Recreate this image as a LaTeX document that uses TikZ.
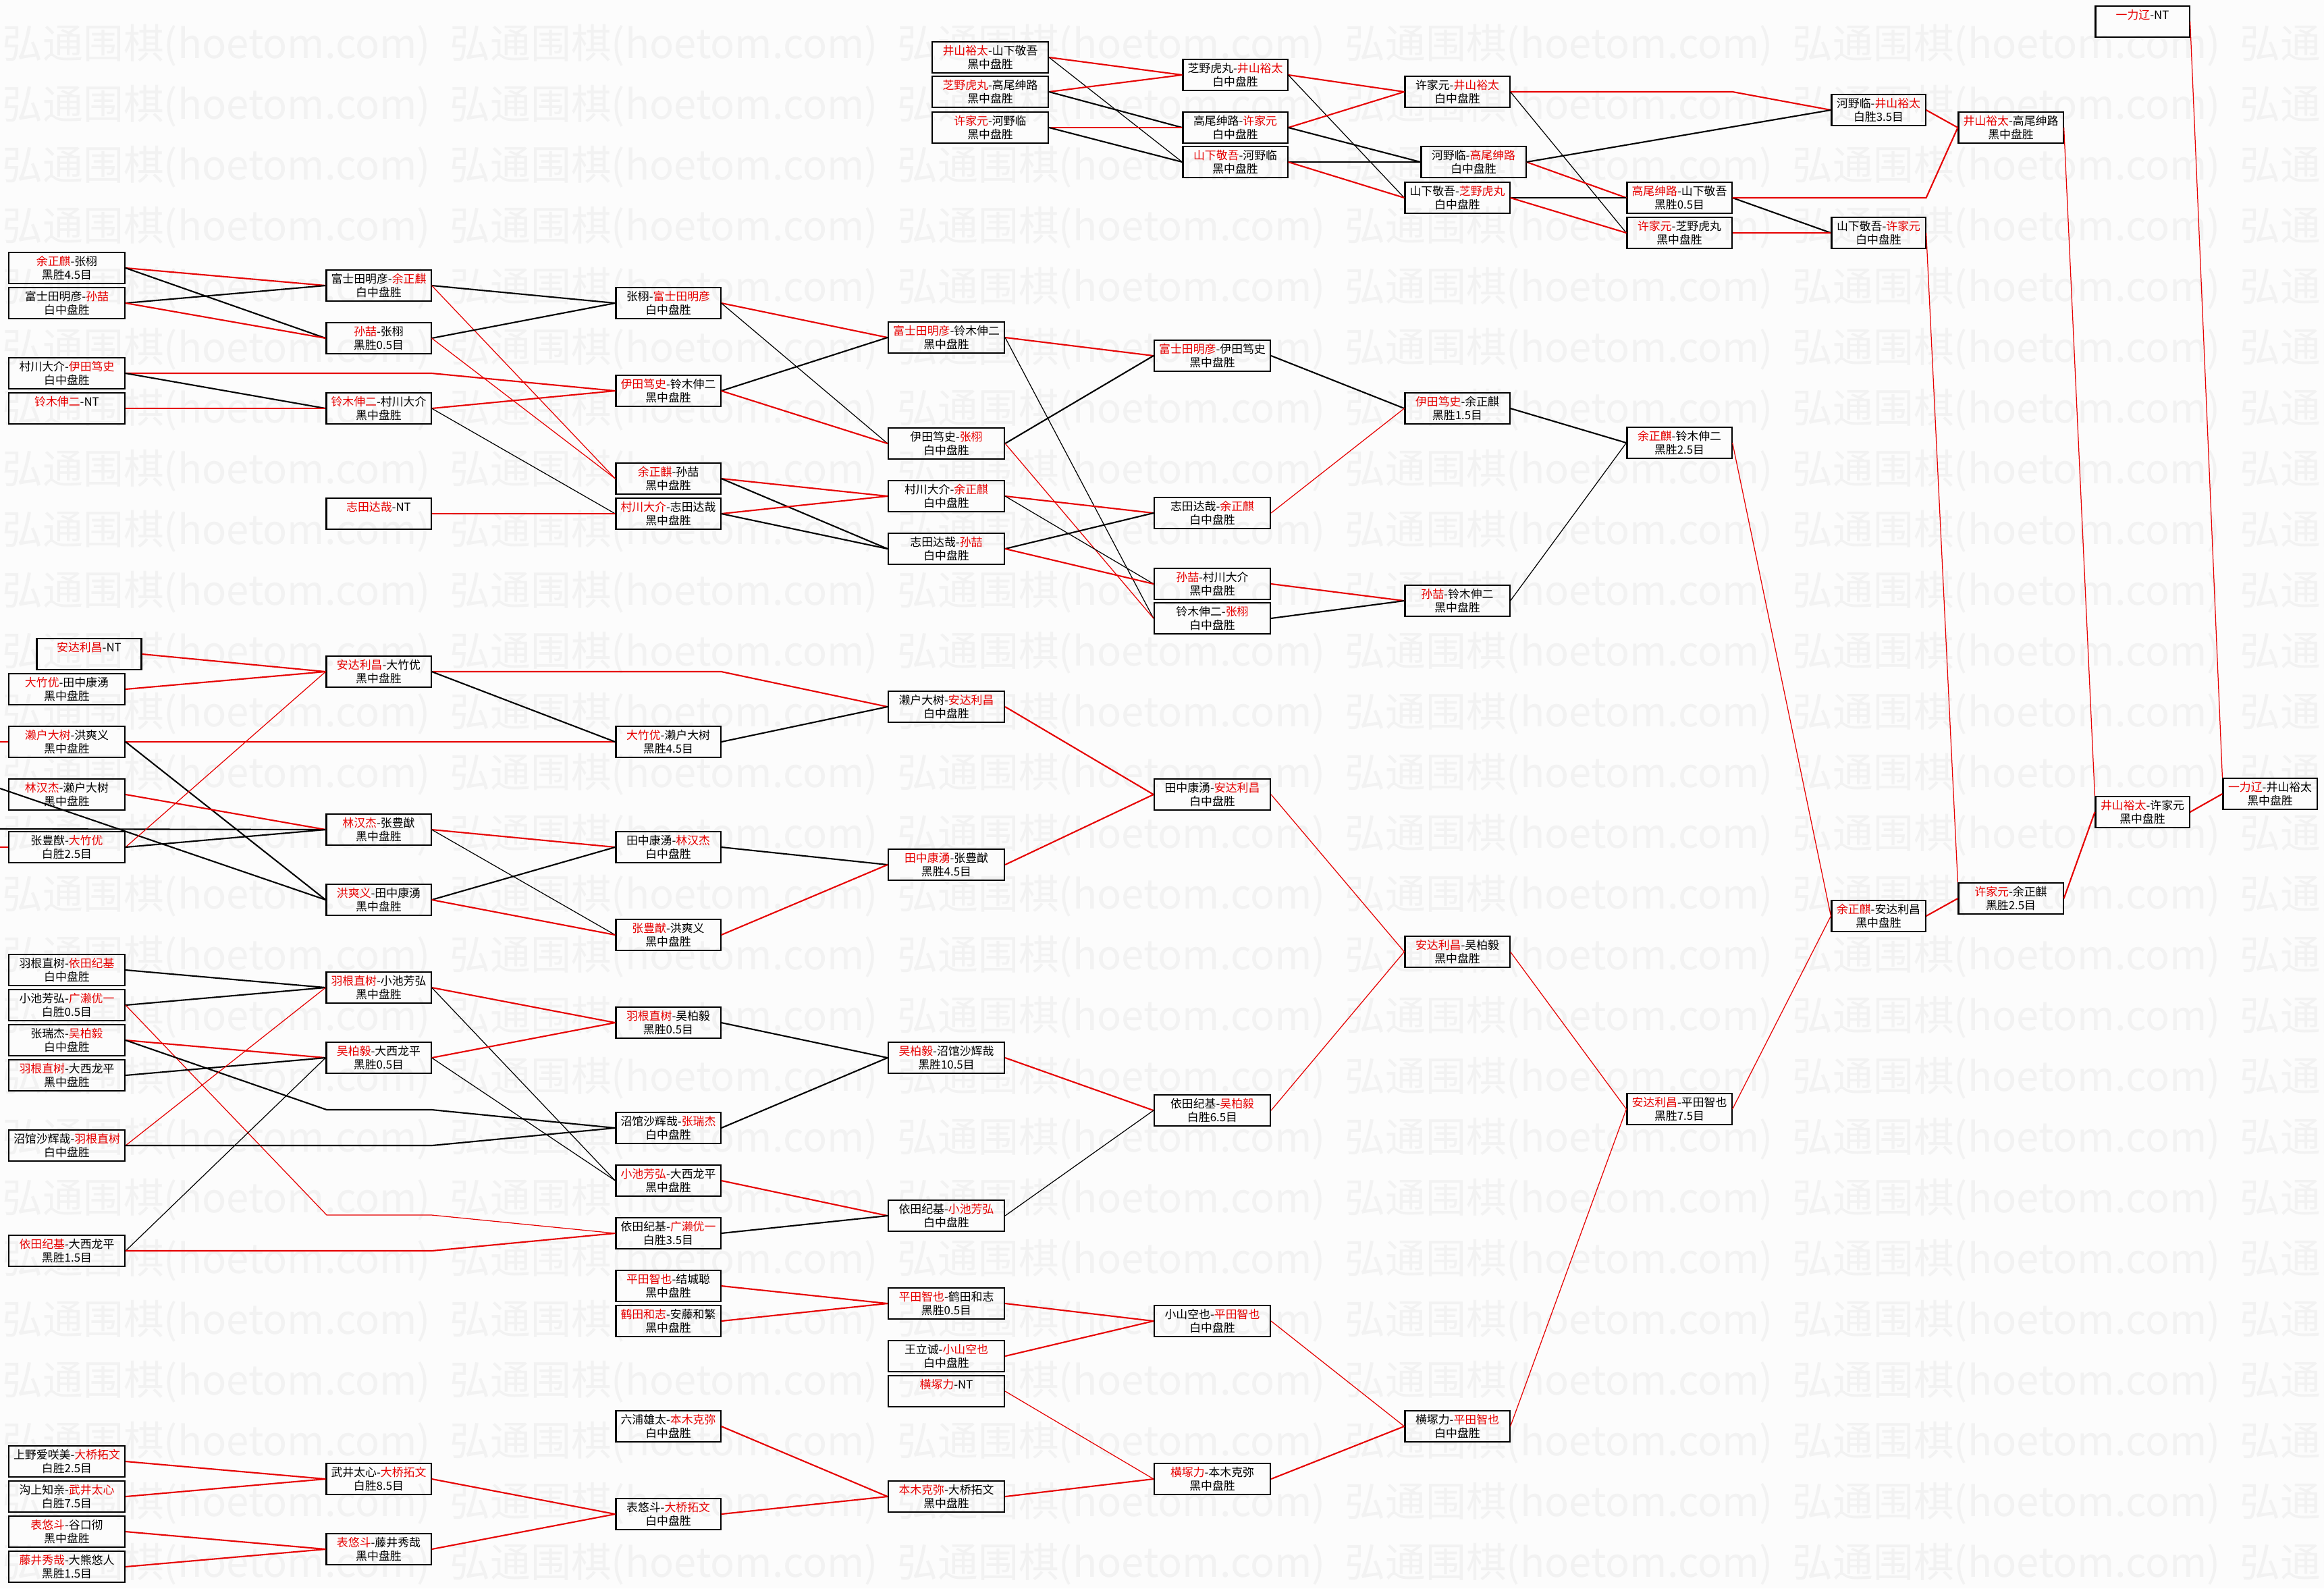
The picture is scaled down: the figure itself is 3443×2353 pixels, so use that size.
\documentclass[tikz,border=0pt]{standalone}
\usepackage{fontspec}
\newfontfamily\cjk{Noto Sans CJK SC}
\definecolor{winred}{RGB}{230,0,0}
\definecolor{wmgray}{RGB}{242,242,242}
\definecolor{paper}{RGB}{252,252,252}
\newcommand{\winner}[1]{\textcolor{winred}{#1}}

\begin{document}
\begin{tikzpicture}[
  x=0.01cm, y=-0.01cm,
  match/.style={draw, line width=0.6pt, minimum height=0.46cm, inner sep=0.5pt,
                align=center, font=\cjk\fontsize{4.8}{5.7}\selectfont},
  wide/.style={match, minimum width=1.72cm},
  mid/.style={match, minimum width=1.55cm},
  narrow/.style={match, minimum width=1.39cm},
  win/.style={draw=winred, line width=0.6pt},
  lose/.style={draw=black, line width=0.6pt},
  faint/.style={line width=0.35pt},
  wm/.style={anchor=west, inner sep=0pt, text=wmgray,
             font=\cjk\fontsize{17}{17}\selectfont}
]
\useasboundingbox (0,0) rectangle (3443,2353);
\clip (0,0) rectangle (3443,2353);
\fill[paper] (0,0) rectangle (3443,2353);

% Watermark
\foreach \r in {0,...,25}
  \foreach \c in {0,...,5}
    \node[wm] (wm-\r-\c) at (3+663*\c, 67+90*\r) {弘通围棋(hoetom.com)};

% Top group
\node[wide] (t1) at (1467,85) {\winner{井山裕太}-山下敬吾\\黑中盘胜};
\node[wide] (t2) at (1467,136) {\winner{芝野虎丸}-高尾绅路\\黑中盘胜};
\node[wide] (t3) at (1467,189) {\winner{许家元}-河野临\\黑中盘胜};
\node[mid] (t4) at (1830,111) {芝野虎丸-\winner{井山裕太}\\白中盘胜};
\node[mid] (t5) at (1830,189) {高尾绅路-\winner{许家元}\\白中盘胜};
\node[mid] (t6) at (1830,240) {\winner{山下敬吾}-河野临\\黑中盘胜};
\node[mid] (t7) at (2159,136) {许家元-\winner{井山裕太}\\白中盘胜};
\node[mid] (t8) at (2183,240) {河野临-\winner{高尾绅路}\\白中盘胜};
\node[mid] (t9) at (2159,293) {山下敬吾-\winner{芝野虎丸}\\白中盘胜};
\node[mid] (t10) at (2488,293) {\winner{高尾绅路}-山下敬吾\\黑胜0.5目};
\node[mid] (t11) at (2488,345) {\winner{许家元}-芝野虎丸\\黑中盘胜};
\node[narrow] (t12) at (2783,163) {河野临-\winner{井山裕太}\\白胜3.5目};
\node[narrow] (t13) at (2783,345) {山下敬吾-\winner{许家元}\\白中盘胜};
\node[mid] (t14) at (2979,189) {\winner{井山裕太}-高尾绅路\\黑中盘胜};
\node[narrow] (t15) at (3174,32) {\winner{一力辽}-NT\\\phantom{黑中盘胜}};

% Upper left group
\node[wide] (a1) at (99,397) {\winner{余正麒}-张栩\\黑胜4.5目};
\node[wide] (a2) at (99,449) {富士田明彦-\winner{孙喆}\\白中盘胜};
\node[wide] (a3) at (99,553) {村川大介-\winner{伊田笃史}\\白中盘胜};
\node[wide] (a4) at (99,605) {\winner{铃木伸二}-NT\\\phantom{黑中盘胜}};
\node[mid] (b1) at (561,423) {富士田明彦-\winner{余正麒}\\白中盘胜};
\node[mid] (b2) at (561,501) {\winner{孙喆}-张栩\\黑胜0.5目};
\node[mid] (b3) at (561,605) {\winner{铃木伸二}-村川大介\\黑中盘胜};
\node[mid] (b4) at (561,761) {\winner{志田达哉}-NT\\\phantom{黑中盘胜}};
\node[mid] (c1) at (990,449) {张栩-\winner{富士田明彦}\\白中盘胜};
\node[mid] (c2) at (990,579) {\winner{伊田笃史}-铃木伸二\\黑中盘胜};
\node[mid] (c3) at (990,709) {\winner{余正麒}-孙喆\\黑中盘胜};
\node[mid] (c4) at (990,761) {\winner{村川大介}-志田达哉\\黑中盘胜};
\node[wide] (d1) at (1402,500) {\winner{富士田明彦}-铃木伸二\\黑中盘胜};
\node[wide] (d2) at (1402,657) {伊田笃史-\winner{张栩}\\白中盘胜};
\node[wide] (d3) at (1402,735) {村川大介-\winner{余正麒}\\白中盘胜};
\node[wide] (d4) at (1402,813) {志田达哉-\winner{孙喆}\\白中盘胜};
\node[wide] (e1) at (1796,527) {\winner{富士田明彦}-伊田笃史\\黑中盘胜};
\node[wide] (e2) at (1796,760) {志田达哉-\winner{余正麒}\\白中盘胜};
\node[wide] (e3) at (1796,865) {\winner{孙喆}-村川大介\\黑中盘胜};
\node[wide] (e4) at (1796,916) {铃木伸二-\winner{张栩}\\白中盘胜};
\node[mid] (f1) at (2159,605) {\winner{伊田笃史}-余正麒\\黑胜1.5目};
\node[mid] (f2) at (2159,890) {\winner{孙喆}-铃木伸二\\黑中盘胜};
\node[mid] (g1) at (2488,656) {\winner{余正麒}-铃木伸二\\黑胜2.5目};

% Middle left group
\node[mid] (h1) at (132,969) {\winner{安达利昌}-NT\\\phantom{黑中盘胜}};
\node[wide] (h2) at (99,1021) {\winner{大竹优}-田中康湧\\黑中盘胜};
\node[wide] (h3) at (99,1099) {\winner{濑户大树}-洪爽义\\黑中盘胜};
\node[wide] (h4) at (99,1177) {\winner{林汉杰}-濑户大树\\黑中盘胜};
\node[wide] (h5) at (99,1255) {张豊猷-\winner{大竹优}\\白胜2.5目};
\node[mid] (i1) at (561,995) {\winner{安达利昌}-大竹优\\黑中盘胜};
\node[mid] (i2) at (561,1229) {\winner{林汉杰}-张豊猷\\黑中盘胜};
\node[mid] (i3) at (561,1333) {\winner{洪爽义}-田中康湧\\黑中盘胜};
\node[mid] (j1) at (990,1099) {\winner{大竹优}-濑户大树\\黑胜4.5目};
\node[mid] (j2) at (990,1255) {田中康湧-\winner{林汉杰}\\白中盘胜};
\node[mid] (j3) at (990,1385) {\winner{张豊猷}-洪爽义\\黑中盘胜};
\node[wide] (k1) at (1402,1047) {濑户大树-\winner{安达利昌}\\白中盘胜};
\node[wide] (k2) at (1402,1281) {\winner{田中康湧}-张豊猷\\黑胜4.5目};
\node[wide] (l1) at (1796,1177) {田中康湧-\winner{安达利昌}\\白中盘胜};
\node[mid] (m1) at (2159,1410) {\winner{安达利昌}-吴柏毅\\黑中盘胜};
\coordinate (edge-h3) at (0,1099);
\coordinate (edge-h5) at (0,1255);
\coordinate (edge-i2) at (0,1228);
\coordinate (edge-i3) at (0,1168);

% Lower left group
\node[wide] (n1) at (99,1437) {羽根直树-\winner{依田纪基}\\白中盘胜};
\node[wide] (n2) at (99,1489) {小池芳弘-\winner{广濑优一}\\白胜0.5目};
\node[wide] (n3) at (99,1541) {张瑞杰-\winner{吴柏毅}\\白中盘胜};
\node[wide] (n4) at (99,1593) {\winner{羽根直树}-大西龙平\\黑中盘胜};
\node[wide] (n5) at (99,1697) {沼馆沙辉哉-\winner{羽根直树}\\白中盘胜};
\node[wide] (n6) at (99,1853) {\winner{依田纪基}-大西龙平\\黑胜1.5目};
\node[mid] (o1) at (561,1463) {\winner{羽根直树}-小池芳弘\\黑中盘胜};
\node[mid] (o2) at (561,1567) {\winner{吴柏毅}-大西龙平\\黑胜0.5目};
\node[mid] (p1) at (990,1515) {\winner{羽根直树}-吴柏毅\\黑胜0.5目};
\node[mid] (p2) at (990,1671) {沼馆沙辉哉-\winner{张瑞杰}\\白中盘胜};
\node[mid] (p3) at (990,1749) {\winner{小池芳弘}-大西龙平\\黑中盘胜};
\node[mid] (p4) at (990,1827) {依田纪基-\winner{广濑优一}\\白胜3.5目};
\node[wide] (q1) at (1402,1567) {\winner{吴柏毅}-沼馆沙辉哉\\黑胜10.5目};
\node[wide] (q2) at (1402,1801) {依田纪基-\winner{小池芳弘}\\白中盘胜};
\node[wide] (r1) at (1796,1645) {依田纪基-\winner{吴柏毅}\\白胜6.5目};
\coordinate (bend-n3) at (484,1644);
\coordinate (bend-n2) at (484,1800);

% Bottom group
\node[mid] (s1) at (990,1905) {\winner{平田智也}-结城聪\\黑中盘胜};
\node[mid] (s2) at (990,1957) {\winner{鹤田和志}-安藤和繁\\黑中盘胜};
\node[mid] (s3) at (990,2113) {六浦雄太-\winner{本木克弥}\\白中盘胜};
\node[mid] (s4) at (990,2243) {表悠斗-\winner{大桥拓文}\\白中盘胜};
\node[wide] (u1) at (1402,1931) {\winner{平田智也}-鹤田和志\\黑胜0.5目};
\node[wide] (u2) at (1402,2009) {王立诚-\winner{小山空也}\\白中盘胜};
\node[wide] (u3) at (1402,2061) {\winner{横塚力}-NT\\\phantom{黑中盘胜}};
\node[wide] (u4) at (1402,2217) {\winner{本木克弥}-大桥拓文\\黑中盘胜};
\node[wide] (v1) at (1796,1957) {小山空也-\winner{平田智也}\\白中盘胜};
\node[wide] (v2) at (1796,2191) {\winner{横塚力}-本木克弥\\黑中盘胜};
\node[mid] (w1) at (2159,2113) {横塚力-\winner{平田智也}\\白中盘胜};
\node[wide] (x1) at (99,2165) {上野爱咲美-\winner{大桥拓文}\\白胜2.5目};
\node[wide] (x2) at (99,2217) {沟上知亲-\winner{武井太心}\\白胜7.5目};
\node[wide] (x3) at (99,2269) {\winner{表悠斗}-谷口彻\\黑中盘胜};
\node[wide] (x4) at (99,2321) {\winner{藤井秀哉}-大熊悠人\\黑胜1.5目};
\node[mid] (y1) at (561,2191) {武井太心-\winner{大桥拓文}\\白胜8.5目};
\node[mid] (y2) at (561,2295) {\winner{表悠斗}-藤井秀哉\\黑中盘胜};

% Final rounds
\node[mid] (z1) at (2488,1643) {\winner{安达利昌}-平田智也\\黑胜7.5目};
\node[narrow] (z2) at (2783,1357) {\winner{余正麒}-安达利昌\\黑中盘胜};
\node[mid] (z3) at (2979,1331) {\winner{许家元}-余正麒\\黑胜2.5目};
\node[narrow] (z4) at (3174,1203) {\winner{井山裕太}-许家元\\黑中盘胜};
\node[narrow] (z5) at (3363,1176) {\winner{一力辽}-井山裕太\\黑中盘胜};

% Top group links
\draw[win] (t1.east) -- (t4.west);
\draw[lose, faint] (t1.east) -- (t6.west);
\draw[win] (t2.east) -- (t4.west);
\draw[lose] (t2.east) -- (t5.west);
\draw[win] (t3.east) -- (t5.west);
\draw[lose] (t3.east) -- (t6.west);
\draw[win] (t4.east) -- (t7.west);
\draw[lose, faint] (t4.east) -- (t9.west);
\draw[win] (t5.east) -- (t7.west);
\draw[lose] (t5.east) -- (t8.west);
\draw[lose] (t6.east) -- (t8.west);
\draw[win] (t6.east) -- (t9.west);
\draw[win] (t7.east) -- (t7.east -| t10.east) -- (t12.west);
\draw[lose, faint] (t7.east) -- (t11.west);
\draw[win] (t8.east) -- (t10.west);
\draw[lose] (t8.east) -- (t12.west);
\draw[lose] (t9.east) -- (t10.west);
\draw[win] (t9.east) -- (t11.west);
\draw[lose] (t10.east) -- (t13.west);
\draw[win] (t10.east) -- (t10.east -| t13.east) -- (t14.west);
\draw[win] (t11.east) -- (t13.west);
\draw[win] (t12.east) -- (t14.west);
\draw[win, faint] (t13.east) -- (z3.north west);
\draw[win, faint] (t14.east) -- (z4.north west);
\draw[win, faint] (t15.east) -- (z5.north west);

% Upper left links
\draw[win] (a1.east) -- (b1.west);
\draw[lose] (a1.east) -- (b2.west);
\draw[lose] (a2.east) -- (b1.west);
\draw[win] (a2.east) -- (b2.west);
\draw[win] (a3.east) -- (a3.east -| b3.east) -- (c2.west);
\draw[lose] (a3.east) -- (b3.west);
\draw[win] (a4.east) -- (b3.west);
\draw[lose] (b1.east) -- (c1.west);
\draw[win, faint] (b1.east) -- (c3.west);
\draw[lose] (b2.east) -- (c1.west);
\draw[win, faint] (b2.east) -- (c3.west);
\draw[win] (b3.east) -- (c2.west);
\draw[lose, faint] (b3.east) -- (c4.west);
\draw[win] (b4.east) -- (c4.west);
\draw[win] (c1.east) -- (d1.west);
\draw[lose, faint] (c1.east) -- (d2.west);
\draw[lose] (c2.east) -- (d1.west);
\draw[win] (c2.east) -- (d2.west);
\draw[win] (c3.east) -- (d3.west);
\draw[lose] (c3.east) -- (d4.west);
\draw[win] (c4.east) -- (d3.west);
\draw[lose] (c4.east) -- (d4.west);
\draw[win] (d1.east) -- (e1.west);
\draw[lose, faint] (d1.east) -- (e4.west);
\draw[lose] (d2.east) -- (e1.west);
\draw[win, faint] (d2.east) -- (e4.west);
\draw[win] (d3.east) -- (e2.west);
\draw[lose, faint] (d3.east) -- (e3.west);
\draw[lose] (d4.east) -- (e2.west);
\draw[win] (d4.east) -- (e3.west);
\draw[lose] (e1.east) -- (f1.west);
\draw[win, faint] (e2.east) -- (f1.west);
\draw[win] (e3.east) -- (f2.west);
\draw[lose] (e4.east) -- (f2.west);
\draw[lose] (f1.east) -- (g1.west);
\draw[lose, faint] (f2.east) -- (g1.west);
\draw[win, faint] (g1.east) -- (z2.west);

% Middle left links
\draw[win] (edge-h3) -- (h3.west);
\draw[win] (edge-h5) -- (h5.west);
\draw[lose] (edge-i2) -- (i2.west);
\draw[lose] (edge-i3) -- (i3.west);
\draw[win] (h1.east) -- (i1.west);
\draw[win] (h2.east) -- (i1.west);
\draw[win] (h3.east) -- (j1.west);
\draw[lose] (h3.east) -- (i3.west);
\draw[win] (h4.east) -- (i2.west);
\draw[win, faint] (h5.east) -- (i1.west);
\draw[lose] (h5.east) -- (i2.west);
\draw[win] (i1.east) -- (i1.east -| j1.east) -- (k1.west);
\draw[lose] (i1.east) -- (j1.west);
\draw[win] (i2.east) -- (j2.west);
\draw[lose, faint] (i2.east) -- (j3.west);
\draw[lose] (i3.east) -- (j2.west);
\draw[win] (i3.east) -- (j3.west);
\draw[lose] (j1.east) -- (k1.west);
\draw[lose] (j2.east) -- (k2.west);
\draw[win] (j3.east) -- (k2.west);
\draw[win] (k1.east) -- (l1.west);
\draw[win] (k2.east) -- (l1.west);
\draw[win, faint] (l1.east) -- (m1.west);
\draw[win, faint] (m1.east) -- (z1.west);

% Lower left links
\draw[lose] (n1.east) -- (o1.west);
\draw[lose] (n2.east) -- (o1.west);
\draw[win, faint] (n2.east) -- (bend-n2) -- (bend-n2 -| o2.east) -- (p4.west);
\draw[win] (n3.east) -- (o2.west);
\draw[lose] (n3.east) -- (bend-n3) -- (bend-n3 -| o2.east) -- (p2.west);
\draw[lose] (n4.east) -- (o2.west);
\draw[win, faint] (n5.east) -- (o1.west);
\draw[lose] (n5.east) -- (n5.east -| o2.east) -- (p2.west);
\draw[lose, faint] (n6.east) -- (o2.west);
\draw[win] (n6.east) -- (n6.east -| o2.east) -- (p4.west);
\draw[win] (o1.east) -- (p1.west);
\draw[lose, faint] (o1.east) -- (p3.west);
\draw[win] (o2.east) -- (p1.west);
\draw[lose, faint] (o2.east) -- (p3.west);
\draw[lose] (p1.east) -- (q1.west);
\draw[lose] (p2.east) -- (q1.west);
\draw[win] (p3.east) -- (q2.west);
\draw[lose] (p4.east) -- (q2.west);
\draw[win] (q1.east) -- (r1.west);
\draw[lose, faint] (q2.east) -- (r1.west);
\draw[win, faint] (r1.east) -- (m1.west);

% Bottom links
\draw[win] (x1.east) -- (y1.west);
\draw[win] (x2.east) -- (y1.west);
\draw[win] (x3.east) -- (y2.west);
\draw[win] (x4.east) -- (y2.west);
\draw[win] (y1.east) -- (s4.west);
\draw[win] (y2.east) -- (s4.west);
\draw[win] (s1.east) -- (u1.west);
\draw[win] (s2.east) -- (u1.west);
\draw[win] (s3.east) -- (u4.west);
\draw[win] (s4.east) -- (u4.west);
\draw[win] (u1.east) -- (v1.west);
\draw[win] (u2.east) -- (v1.west);
\draw[win, faint] (u3.east) -- (v2.west);
\draw[win] (u4.east) -- (v2.west);
\draw[win, faint] (v1.east) -- (w1.west);
\draw[win] (v2.east) -- (w1.west);
\draw[win, faint] (w1.east) -- (z1.west);

% Final links
\draw[win, faint] (z1.east) -- (z2.west);
\draw[win] (z2.east) -- (z3.west);
\draw[win] (z3.east) -- (z4.west);
\draw[win] (z4.east) -- (z5.west);

\end{tikzpicture}
\end{document}
